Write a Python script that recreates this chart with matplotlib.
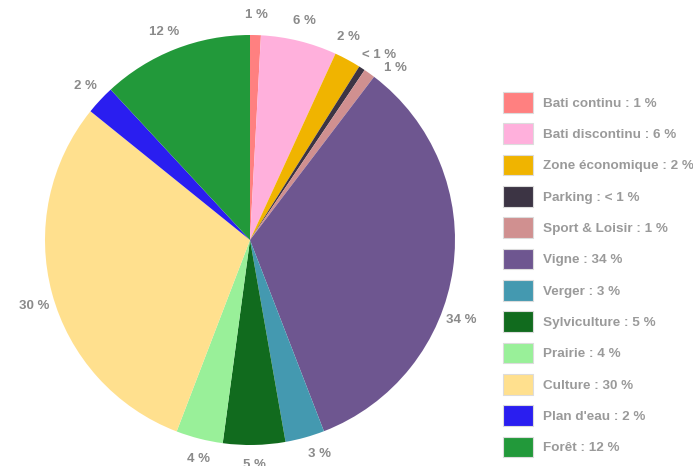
import numpy as np
import matplotlib
matplotlib.use("Agg")
import matplotlib.pyplot as plt
from matplotlib.patches import Patch

categories = ["Bati continu", "Bati discontinu", "Zone économique", "Parking",
              "Sport & Loisir", "Vigne", "Verger", "Sylviculture", "Prairie",
              "Culture", "Plan d'eau", "Forêt"]
values = [0.85, 6.0, 2.1, 0.5, 0.9, 33.8, 3.1, 4.9, 3.7, 30.0, 2.3, 11.9]
pct_labels = ["1 %", "6 %", "2 %", "< 1 %", "1 %", "34 %", "3 %", "5 %",
              "4 %", "30 %", "2 %", "12 %"]
colors = ["#ff8080", "#ffb0dc", "#f0b400", "#3c3444", "#d09090", "#6e5690",
          "#4499b0", "#116b1e", "#99f099", "#ffe08e", "#2a1ef0", "#22993a"]
# small angular nudges (degrees, clockwise) used to spread crowded labels
label_shift = [0, 0, 2.6, -1.8, -4.7, -12.7, 2.5, 0, 1, 2, 0, 1]

W, H = 693, 466
fig = plt.figure(figsize=(W / 100, H / 100), dpi=100)
cx, cy, R = 250, 240, 205
ax = fig.add_axes([(cx - R) / W, (H - cy - R) / H, 2 * R / W, 2 * R / H])
wedges, _ = ax.pie(values, colors=colors, startangle=90, counterclock=False,
                   radius=1.0, wedgeprops=dict(linewidth=0))
ax.set_xlim(-1, 1)
ax.set_ylim(-1, 1)
ax.set_aspect("equal")
ax.axis("off")

font = "Liberation Sans"
for w, lab, sh in zip(wedges, pct_labels, label_shift):
    mid = np.deg2rad((w.theta1 + w.theta2) / 2 + sh)
    r = 1.1
    ax.text(r * np.cos(mid), r * np.sin(mid), lab, ha="center", va="center",
            fontsize=9.5, fontweight="bold", color="#8a8a8a", family=font,
            clip_on=False)

fs = 9.7
handles = [Patch(facecolor=c, edgecolor="#dcdcdc", linewidth=0.8) for c in colors]
leg_labels = [f"{c} : {p}" for c, p in zip(categories, pct_labels)]
leg = fig.legend(handles, leg_labels, loc="upper left",
                 bbox_to_anchor=(503 / W, 1 - 92 / H), frameon=False,
                 borderpad=0, borderaxespad=0, handlelength=2.25,
                 handleheight=2.0, handletextpad=0.7, labelspacing=0.78,
                 prop=dict(family=font, weight="bold", size=fs))
for t in leg.get_texts():
    t.set_color("#9a9a9a")

fig.savefig("out.png", dpi=100)
